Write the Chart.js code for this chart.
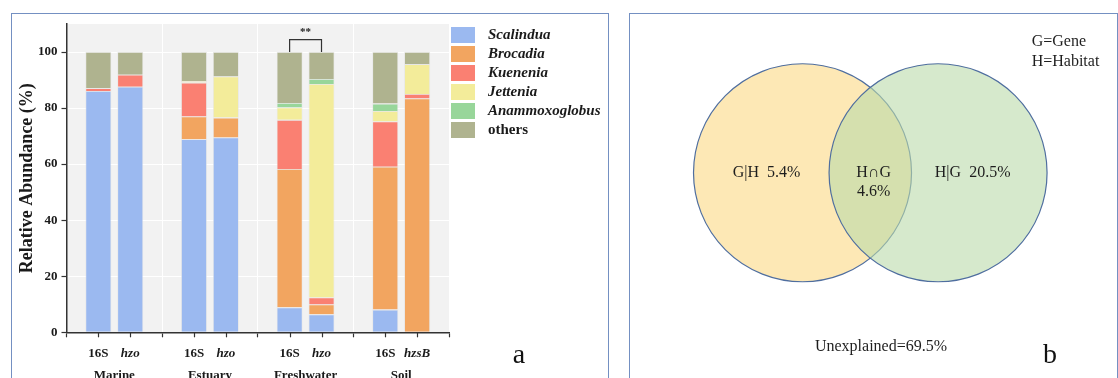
<!DOCTYPE html>
<html>
<head>
<meta charset="utf-8">
<script src="https://cdn.jsdelivr.net/npm/chart.js@4.4.0/dist/chart.umd.min.js"></script>
<style>
  html, body { margin: 0; padding: 0; background: #fff; width: 1118px; height: 378px; overflow: hidden; }
  .panel { position: absolute; border: 1.5px solid #7490c2; background: #fff; box-sizing: border-box; }
  #panelA { left: 11px; top: 13px; width: 598px; height: 420px; }
  #panelB { left: 629px; top: 13px; width: 489px; height: 420px; }
  canvas { position: absolute; top: 0; }
  #bars { left: 0; }
  #venn { left: 629px; }
</style>
</head>
<body>
<div class="panel" id="panelA"></div>
<div class="panel" id="panelB"></div>
<canvas id="bars" width="620" height="378"></canvas>
<canvas id="venn" width="488" height="378"></canvas>
<script>
// ---- Panel a: anammox genera composition by habitat ----
const habitats = ['Marine', 'Estuary', 'Freshwater', 'Soil'];
const markerLabels = ['16S', '16S', '16S', '16S'];
const geneLabels = ['hzo', 'hzo', 'hzo', 'hzsB'];
const genera = ['Scalindua', 'Brocadia', 'Kuenenia', 'Jettenia', 'Anammoxoglobus', 'others'];
const generaColors = ['#9bb9f0', '#f2a560', '#fa8072', '#f3ec9a', '#98d69a', '#afb38f'];

// relative abundance (%) from 16S rRNA gene sequencing
const scalindua16S      = [86.1, 68.9,  8.9,  8.1];
const brocadia16S       = [ 0.0,  8.1, 49.4, 51.0];
const kuenenia16S       = [ 1.0, 12.1, 17.5, 16.1];
const jettenia16S       = [ 0.0,  0.6,  4.4,  3.8];
const anammoxoglobus16S = [ 0.0,  0.0,  1.6,  2.6];
const others16S         = [12.9, 10.3, 18.2, 18.4];

// relative abundance (%) from functional genes (hzo / hzsB)
const scalinduaGene      = [87.6, 69.5,  6.4,  0.0];
const brocadiaGene       = [ 0.0,  7.1,  3.5, 83.4];
const kueneniaGene       = [ 4.3,  0.0,  2.5,  1.6];
const jetteniaGene       = [ 0.0, 14.7, 76.2, 10.7];
const anammoxoglobusGene = [ 0.0,  0.0,  1.8,  0.0];
const othersGene         = [ 8.1,  8.7,  9.6,  4.3];

const yTicks = [0, 20, 40, 60, 80, 100];
const sigHabitat = 'Freshwater';
const sigMark = '**';
const panelLetterA = 'a';

const series16S = [scalindua16S, brocadia16S, kuenenia16S, jettenia16S, anammoxoglobus16S, others16S];
const seriesGene = [scalinduaGene, brocadiaGene, kueneniaGene, jetteniaGene, anammoxoglobusGene, othersGene];

const SERIF = '"Liberation Serif", "Times New Roman", serif';
const INK = '#1a1a1a';

const barDatasets = [];
series16S.forEach((vals, k) => barDatasets.push({
  label: genera[k], stack: 'marker', data: vals, backgroundColor: generaColors[k],
  borderColor: 'rgba(225,225,225,0.7)', borderWidth: 0.8
}));
seriesGene.forEach((vals, k) => barDatasets.push({
  label: genera[k], stack: 'gene', data: vals, backgroundColor: generaColors[k],
  borderColor: 'rgba(225,225,225,0.7)', borderWidth: 0.8
}));

const plotBackground = {
  id: 'plotBackground',
  beforeDraw(chart) {
    const { ctx, chartArea: a } = chart;
    ctx.save();
    ctx.fillStyle = '#f2f2f2';
    ctx.fillRect(a.left, a.top, a.right - a.left, a.bottom - a.top);
    ctx.restore();
  }
};

const barAnnotations = {
  id: 'barAnnotations',
  afterDraw(chart) {
    const { ctx, chartArea: a, scales } = chart;
    const y = scales.y;
    const nG = genera.length;
    ctx.save();

    // per-bar tick marks and sub-labels under the x axis
    ctx.strokeStyle = '#333';
    ctx.lineWidth = 1.2;
    ctx.fillStyle = INK;
    ctx.textAlign = 'center';
    ctx.textBaseline = 'alphabetic';
    habitats.forEach((h, i) => {
      const xm = chart.getDatasetMeta(0).data[i].x;
      const xg = chart.getDatasetMeta(nG).data[i].x;
      [xm, xg].forEach(x => {
        ctx.beginPath();
        ctx.moveTo(Math.round(x) + 0.5, a.bottom);
        ctx.lineTo(Math.round(x) + 0.5, a.bottom + 5);
        ctx.stroke();
      });
      ctx.font = 'bold 13px ' + SERIF;
      ctx.fillText(markerLabels[i], xm, a.bottom + 24.5);
      ctx.font = 'bold italic 13px ' + SERIF;
      ctx.fillText(geneLabels[i], xg, a.bottom + 24.5);
    });

    // significance bracket
    const si = habitats.indexOf(sigHabitat);
    const x1 = chart.getDatasetMeta(0).data[si].x;
    const x2 = chart.getDatasetMeta(nG).data[si].x;
    const yb = y.getPixelForValue(100);
    const yt = y.getPixelForValue(104.4);
    ctx.strokeStyle = '#333';
    ctx.lineWidth = 1.2;
    ctx.beginPath();
    ctx.moveTo(x1, yb); ctx.lineTo(x1, yt); ctx.lineTo(x2, yt); ctx.lineTo(x2, yb);
    ctx.stroke();
    ctx.font = 'bold 11px ' + SERIF;
    ctx.textBaseline = 'middle';
    ctx.fillText(sigMark, (x1 + x2) / 2, y.getPixelForValue(107.0));

    // legend
    const lx = a.right + 2;
    genera.forEach((g, k) => {
      const top = 27 + 19 * k;
      ctx.fillStyle = generaColors[k];
      ctx.fillRect(lx, top, 24, 16);
      ctx.fillStyle = INK;
      ctx.textAlign = 'left';
      ctx.textBaseline = 'middle';
      ctx.font = (g === 'others' ? 'bold ' : 'bold italic ') + '15px ' + SERIF;
      ctx.fillText(g, lx + 37, top + 8.5);
    });

    // panel letter
    ctx.font = '28px ' + SERIF;
    ctx.textAlign = 'center';
    ctx.textBaseline = 'alphabetic';
    ctx.fillStyle = '#111';
    ctx.fillText(panelLetterA, 519, 363);
    ctx.restore();
  }
};

new Chart(document.getElementById('bars'), {
  type: 'bar',
  data: { labels: habitats, datasets: barDatasets },
  options: {
    responsive: false,
    animation: false,
    events: [],
    categoryPercentage: 0.667,
    barPercentage: 0.8125,
    layout: { padding: { left: 0, right: 171, top: 24, bottom: 0 } },
    plugins: { legend: { display: false }, tooltip: { enabled: false } },
    scales: {
      x: {
        stacked: true,
        offset: true,
        grid: { offset: true, color: '#ffffff', lineWidth: 1, drawTicks: true, tickLength: 5, tickColor: '#333', tickWidth: 1.2 },
        border: { color: '#333', width: 1.5 },
        ticks: { font: { family: SERIF, size: 13, weight: 'bold' }, color: INK, padding: 31, maxRotation: 0 },
        afterFit(s) { s.height = 45.7; }
      },
      y: {
        stacked: true,
        min: 0,
        max: 110,
        afterBuildTicks(s) { s.ticks = yTicks.map(v => ({ value: v })); },
        ticks: { font: { family: SERIF, size: 13, weight: 'bold' }, color: INK, padding: 4 },
        grid: { color: '#ffffff', lineWidth: 1, tickLength: 5, tickColor: '#333', tickWidth: 1.2 },
        border: { color: '#333', width: 1.5 },
        title: {
          display: true, text: 'Relative Abundance (%)', color: INK,
          font: { family: SERIF, size: 18, weight: 'bold' }, padding: { top: 17, bottom: 0 }
        },
        afterFit(s) { s.width = 66.5; }
      }
    }
  },
  plugins: [plotBackground, barAnnotations]
});

// ---- Panel b: variance partitioning between gene and habitat ----
const vennSets = ['G', 'H'];
const vennCentres = [-1, 1];
const vennFills = ['#fde8b5', 'rgba(187,218,170,0.6)'];
const vennPartLabels = ['G|H', 'H\u2229G', 'H|G'];
const vennPartValues = [5.4, 4.6, 20.5];
const unexplainedValue = 69.5;
const vennKey = ['G=Gene', 'H=Habitat'];
const panelLetterB = 'b';

const vennText = {
  id: 'vennText',
  afterDraw(chart) {
    const { ctx, scales: { x, y } } = chart;
    ctx.save();
    ctx.fillStyle = '#1e1e1e';
    ctx.font = '16px ' + SERIF;
    ctx.textAlign = 'center';
    ctx.textBaseline = 'middle';
    const row = y.getPixelForValue(0);
    ctx.fillText(vennPartLabels[0] + '  ' + vennPartValues[0] + '%', x.getPixelForValue(-1.53), row);
    ctx.fillText(vennPartLabels[1], x.getPixelForValue(0.05), row);
    ctx.fillText(vennPartValues[1] + '%', x.getPixelForValue(0.05), row + 19.5);
    ctx.fillText(vennPartLabels[2] + '  ' + vennPartValues[2] + '%', x.getPixelForValue(1.51), row);
    ctx.fillText('Unexplained=' + unexplainedValue + '%', x.getPixelForValue(0.158), y.getPixelForValue(-2.568));
    ctx.textAlign = 'left';
    ctx.fillText(vennKey[0], x.getPixelForValue(2.381), y.getPixelForValue(1.934));
    ctx.fillText(vennKey[1], x.getPixelForValue(2.381), y.getPixelForValue(1.639));
    ctx.font = '28px ' + SERIF;
    ctx.textAlign = 'center';
    ctx.textBaseline = 'alphabetic';
    ctx.fillStyle = '#111';
    ctx.fillText(panelLetterB, x.getPixelForValue(2.651), 363);
    ctx.restore();
  }
};

new Chart(document.getElementById('venn'), {
  type: 'bubble',
  data: {
    datasets: vennSets.map((s, i) => ({
      label: s,
      data: [{ x: vennCentres[i], y: 0 }],
      backgroundColor: vennFills[i],
      borderColor: '#4f6e9f',
      borderWidth: 1.2,
      radius: 109,
      clip: false,
      order: vennSets.length - i
    }))
  },
  options: {
    responsive: false,
    animation: false,
    events: [],
    layout: { padding: 0, autoPadding: false },
    plugins: { legend: { display: false }, tooltip: { enabled: false } },
    scales: {
      x: { type: 'linear', display: false, min: -3.56, max: 3.64 },
      y: { type: 'linear', display: false, min: -3.03, max: 2.55 }
    }
  },
  plugins: [vennText]
});
</script>
</body>
</html>
